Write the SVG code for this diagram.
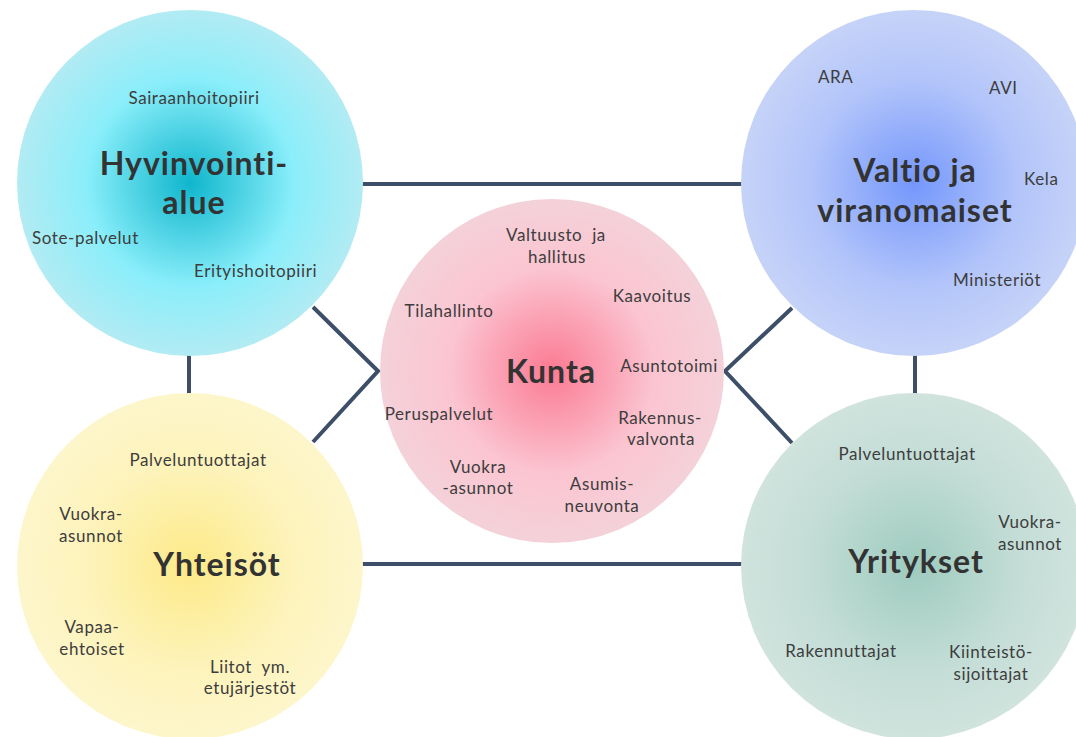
<svg xmlns="http://www.w3.org/2000/svg" width="1076" height="737" viewBox="0 0 1076 737">
<defs>
<radialGradient id="gCyan" cx="0.5" cy="0.5" r="0.5">
<stop offset="0" stop-color="#0fb6cd"/>
<stop offset="0.6" stop-color="#8aeefa"/>
<stop offset="1" stop-color="#b2ebf3"/>
</radialGradient>
<radialGradient id="gBlue" cx="0.5" cy="0.5" r="0.5">
<stop offset="0" stop-color="#7497fb"/>
<stop offset="0.6" stop-color="#b2c4fa"/>
<stop offset="1" stop-color="#c6d3f8"/>
</radialGradient>
<radialGradient id="gPink" cx="0.5" cy="0.5" r="0.5">
<stop offset="0" stop-color="#fb7a93"/>
<stop offset="0.6" stop-color="#fbc5d1"/>
<stop offset="1" stop-color="#f4d1d9"/>
</radialGradient>
<radialGradient id="gYellow" cx="0.5" cy="0.5" r="0.5">
<stop offset="0" stop-color="#fdea88"/>
<stop offset="0.6" stop-color="#fdf3bb"/>
<stop offset="1" stop-color="#fdf6cb"/>
</radialGradient>
<radialGradient id="gGreen" cx="0.5" cy="0.5" r="0.5">
<stop offset="0" stop-color="#9ecbbf"/>
<stop offset="0.6" stop-color="#c3ddd6"/>
<stop offset="1" stop-color="#d0e3dd"/>
</radialGradient>
</defs>
<style>
.conn{stroke:#3d4e68;stroke-width:4;fill:none;stroke-linejoin:miter}
.t{font-family:Lato,"Open Sans","Liberation Sans",sans-serif;font-size:17px;letter-spacing:0.6px;fill:#3d3d3d;white-space:pre}
.m{text-anchor:middle}
.h{font-family:Lato,"Open Sans","Liberation Sans",sans-serif;font-size:32px;letter-spacing:1px;font-weight:bold;fill:#333333;text-anchor:middle}
</style>
<rect width="1076" height="737" fill="#ffffff"/>
<g id="connectors">
<line class="conn" x1="360" y1="184" x2="745" y2="184"/>
<line class="conn" x1="360" y1="564" x2="745" y2="564"/>
<line class="conn" x1="189" y1="354" x2="189" y2="395"/>
<line class="conn" x1="915" y1="354" x2="915" y2="395"/>
<polyline class="conn" points="313,307 378,371 313,442"/>
<polyline class="conn" points="792,308 725,371 792,443"/>
</g>
<g id="hyvinvointialue">
<circle cx="190" cy="183" r="173" fill="url(#gCyan)"/>
<text class="t m" x="194" y="104">Sairaanhoitopiiri</text>
<text class="h" x="194" y="175">Hyvinvointi-</text>
<text class="h" x="194" y="214">alue</text>
<text class="t" x="32" y="244">Sote-palvelut</text>
<text class="t" x="194" y="277">Erityishoitopiiri</text>
</g>
<g id="valtio">
<circle cx="914" cy="183" r="173" fill="url(#gBlue)"/>
<text class="t" x="818" y="83">ARA</text>
<text class="t" x="989" y="94">AVI</text>
<text class="h" x="915" y="182">Valtio ja</text>
<text class="h" x="915" y="222">viranomaiset</text>
<text class="t" x="1024" y="185">Kela</text>
<text class="t" x="953" y="286">Ministeriöt</text>
</g>
<g id="yhteisot">
<circle cx="190" cy="566" r="173" fill="url(#gYellow)"/>
<text class="t m" x="198" y="466">Palveluntuottajat</text>
<text class="t m" x="91" y="520">Vuokra-</text>
<text class="t m" x="91" y="542">asunnot</text>
<text class="h" x="217" y="576">Yhteisöt</text>
<text class="t m" x="92" y="633">Vapaa-</text>
<text class="t m" x="92" y="655">ehtoiset</text>
<text class="t m" x="250" y="673">Liitot  ym.</text>
<text class="t m" x="250" y="694">etujärjestöt</text>
</g>
<g id="yritykset">
<circle cx="914" cy="566" r="173" fill="url(#gGreen)"/>
<text class="t m" x="907" y="460">Palveluntuottajat</text>
<text class="t m" x="1030" y="528">Vuokra-</text>
<text class="t m" x="1030" y="550">asunnot</text>
<text class="h" x="916" y="573">Yritykset</text>
<text class="t m" x="841" y="657">Rakennuttajat</text>
<text class="t m" x="991" y="658">Kiinteistö-</text>
<text class="t m" x="991" y="680">sijoittajat</text>
</g>
<g id="kunta">
<circle cx="552" cy="371" r="172" fill="url(#gPink)"/>
<text class="t m" x="556" y="241">Valtuusto  ja</text>
<text class="t m" x="557" y="263">hallitus</text>
<text class="t m" x="652" y="302">Kaavoitus</text>
<text class="t m" x="449" y="317">Tilahallinto</text>
<text class="h" x="551" y="383">Kunta</text>
<text class="t m" x="669" y="372">Asuntotoimi</text>
<text class="t m" x="439" y="420">Peruspalvelut</text>
<text class="t m" x="660" y="424">Rakennus-</text>
<text class="t m" x="661" y="445">valvonta</text>
<text class="t m" x="478" y="473">Vuokra</text>
<text class="t m" x="478" y="494">-asunnot</text>
<text class="t m" x="602" y="490">Asumis-</text>
<text class="t m" x="602" y="512">neuvonta</text>
</g>
</svg>
